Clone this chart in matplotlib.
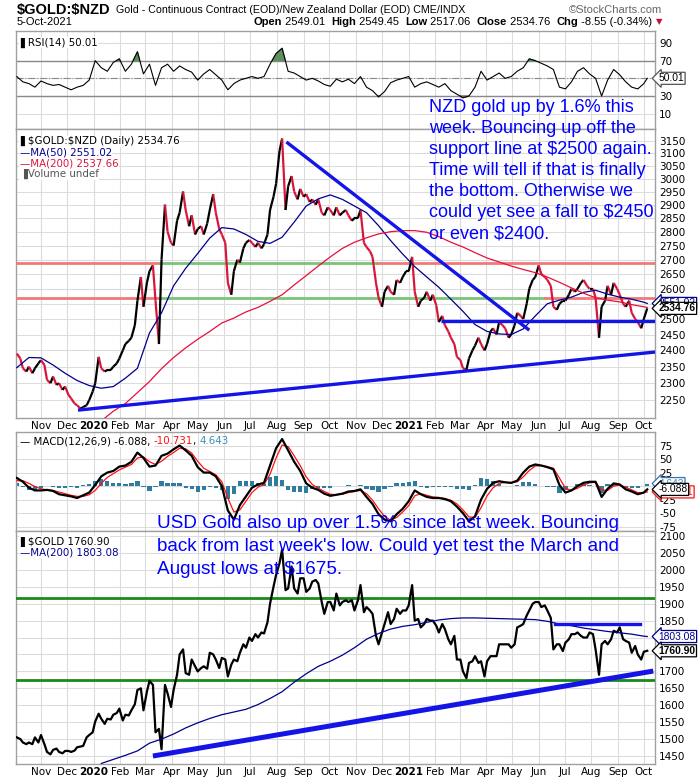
import matplotlib
matplotlib.use("Agg")
import matplotlib.pyplot as plt
import matplotlib.dates as mdates
import matplotlib.transforms as mtransforms
from matplotlib.collections import LineCollection
from matplotlib.text import Annotation
from matplotlib.ticker import NullLocator
import numpy as np
import pandas as pd

plt.rcParams['text.parse_math'] = False
plt.rcParams['font.family'] = ['DejaVu Sans']

nan = np.nan

# sample dates: prices twice a week, indicators weekly, moving averages fortnightly
tuesdays = pd.date_range('2019-10-08', '2021-10-05', freq='W-TUE')
fridays = pd.date_range('2019-10-04', '2021-10-01', freq='W-FRI')
price_dates = tuesdays.union(fridays)
week_dates = fridays.append(pd.DatetimeIndex(['2021-10-05']))
ma_dates = pd.date_range('2019-10-04', '2021-10-01', freq='2W-FRI').append(pd.DatetimeIndex(['2021-10-05']))

# $GOLD:$NZD close
nzd_close = [
    2390, 2375, 2345, 2335, 2350, 2330, 2345, 2360,                # Oct 19
    2370, 2355, 2310, 2300, 2320, 2295, 2300, 2280, 2290,          # Nov
    2265, 2255, 2240, 2235, 2225, 2230, 2235, 2250, 2275,          # Dec
    2300, 2380, 2345, 2335, 2340, 2340, 2350, 2360, 2375,          # Jan 20
    2400, 2420, 2430, 2440, 2480, 2560, 2640, 2540,                # Feb
    2620, 2660, 2680, 2560, 2420, 2700, 2900, 2800, 2760,          # Mar
    2750, 2840, 2870, 2950, 2880, 2820, 2860, 2790,                # Apr
    2810, 2820, 2790, 2830, 2880, 2940, 2870, 2810, 2790,          # May
    2760, 2620, 2580, 2660, 2700, 2690, 2740, 2760, 2770,          # Jun
    2760, 2745, 2760, 2740, 2755, 2790, 2880, 2930, 2980,          # Jul
    3110, 3160, 2880, 2970, 3010, 2950, 2920, 2960,                # Aug
    2930, 2940, 2910, 2920, 2900, 2920, 2870, 2860, 2890,          # Sep
    2880, 2860, 2890, 2860, 2870, 2880, 2860, 2840, 2850,          # Oct
    2850, 2880, 2760, 2745, 2730, 2710, 2620, 2570,                # Nov
    2540, 2590, 2610, 2590, 2580, 2630, 2620, 2640, 2660,          # Dec
    2660, 2710, 2590, 2540, 2560, 2570, 2590, 2560, 2580,          # Jan 21
    2545, 2490, 2510, 2480, 2460, 2440, 2420, 2380,                # Feb
    2370, 2345, 2340, 2375, 2400, 2415, 2440, 2420, 2400,          # Mar
    2420, 2460, 2470, 2450, 2490, 2480, 2470, 2440, 2450,          # Apr
    2480, 2520, 2510, 2500, 2550, 2600, 2630, 2640,                # May
    2680, 2650, 2640, 2630, 2610, 2540, 2530, 2550, 2560,          # Jun
    2560, 2580, 2600, 2590, 2600, 2620, 2630, 2610, 2600,          # Jul
    2600, 2570, 2440, 2540, 2560, 2610, 2580, 2620, 2600,          # Aug
    2580, 2550, 2540, 2560, 2520, 2500, 2490, 2470,                # Sep
    2500, 2534.76,                                                 # Oct
]

# $GOLD close (USD)
usd_close = [
    1505, 1500, 1490, 1485, 1490, 1485, 1505, 1490,
    1512, 1485, 1462, 1455, 1468, 1472, 1462, 1458, 1465,
    1465, 1462, 1466, 1476, 1478, 1480, 1505, 1512, 1520,
    1552, 1575, 1560, 1545, 1560, 1558, 1572, 1577, 1590,
    1555, 1572, 1570, 1585, 1603, 1645, 1650, 1585,
    1640, 1672, 1660, 1520, 1530, 1470, 1660, 1635, 1595,
    1645, 1690, 1750, 1765, 1695, 1690, 1735, 1715,
    1700, 1710, 1715, 1708, 1755, 1750, 1735, 1710, 1740,
    1735, 1685, 1720, 1735, 1730, 1755, 1780, 1770, 1800,
    1790, 1810, 1800, 1815, 1812, 1845, 1900, 1950, 1985,
    2020, 2060, 1940, 1945, 2010, 1945, 1930, 1975,
    1975, 1935, 1945, 1965, 1970, 1960, 1905, 1870, 1905,
    1905, 1880, 1930, 1895, 1905, 1910, 1905, 1910, 1880,
    1910, 1955, 1875, 1890, 1880, 1870, 1805, 1780,
    1815, 1840, 1875, 1840, 1855, 1885, 1870, 1880, 1880,
    1895, 1955, 1850, 1855, 1830, 1840, 1855, 1850, 1850,
    1835, 1815, 1840, 1825, 1795, 1780, 1805, 1735,
    1735, 1700, 1680, 1725, 1730, 1745, 1725, 1730, 1685,
    1730, 1745, 1745, 1745, 1780, 1780, 1780, 1780, 1770,
    1780, 1830, 1835, 1840, 1865, 1880, 1900, 1905,
    1905, 1890, 1895, 1880, 1858, 1765, 1780, 1780, 1760,
    1785, 1795, 1810, 1810, 1815, 1805, 1800, 1800, 1815,
    1810, 1765, 1690, 1780, 1790, 1780, 1795, 1820, 1815,
    1830, 1795, 1790, 1785, 1755, 1775, 1750, 1735,
    1758, 1760.90,
]

# moving averages (fortnightly readings)
nzd_ma50 = [
    2347, 2378, 2377, 2355, 2330, 2308, 2293,
    2285, 2290, 2315, 2345, 2455, 2520, 2610, 2670, 2722, 2777, 2815, 2810, 2790,
    2765, 2758, 2780, 2835, 2895, 2922, 2937, 2920, 2895, 2870, 2822, 2768, 2720,
    2676, 2640, 2605, 2565, 2525, 2482, 2460, 2452, 2450, 2468, 2510, 2550, 2562,
    2572, 2588, 2595, 2582, 2572, 2565, 2555, 2551.02,
]
nzd_ma200 = [
    nan, nan, nan, nan, nan, nan, nan,
    2190, 2218, 2240, 2272, 2305, 2344, 2378, 2408, 2435, 2460, 2487, 2503, 2523,
    2538, 2558, 2580, 2613, 2645, 2678, 2710, 2740, 2762, 2778, 2792, 2800, 2804,
    2804, 2798, 2782, 2762, 2745, 2725, 2706, 2692, 2678, 2666, 2655, 2640, 2622,
    2603, 2585, 2570, 2562, 2556, 2547, 2540, 2537.66,
]
usd_ma200 = [
    nan, nan, nan, nan, nan, nan, nan,
    1428, 1440, 1452, 1465, 1488, 1500, 1515, 1533, 1548, 1561, 1572, 1580, 1588,
    1602, 1620, 1640, 1668, 1693, 1715, 1730, 1748, 1770, 1795, 1812, 1825, 1833,
    1838, 1845, 1852, 1856, 1858, 1858, 1857, 1856, 1855, 1854, 1853, 1848, 1840,
    1835, 1828, 1823, 1818, 1814, 1810, 1804, 1803.08,
]

# RSI(14), weekly
rsi = [
    52, 46, 44, 40, 47, 44, 42, 43, 40, 37, 40, 42, 48,
    70, 62, 58, 68, 72, 58, 66, 80, 55, 66, 42, 62, 66, 58, 64, 60, 57, 48, 55, 60,
    54, 48, 37, 44, 48, 50, 52, 50, 52, 66, 78, 84, 58, 56, 52, 48, 50, 47, 43, 41,
    49, 46, 49, 44, 52, 40, 36, 29, 35, 45, 48, 50,
    52, 40, 44, 46, 43, 40, 44, 36, 32, 28, 30, 40, 58, 48, 52, 56, 50, 52, 58, 62,
    72, 70, 67, 64, 60, 40, 38, 46, 58, 62, 55, 50, 30, 48, 60, 54, 46, 40, 38, 44,
    50.01,
]

# MACD(12,26,9), weekly
macd_line = [
    15, 8, -3, -8, -8, -7, -9, -15, -17, -19, -22, -17, -12,
    2, 18, 25, 28, 36, 38, 45, 62, 52, 36, 38, 56, 60, 68, 75, 66, 56, 35, 25, 25,
    18, 0, -45, -62, -35, -19, -3, 3, 6, 38, 70, 87, 66, 45, 28, 5, -3, -7, -14, -18,
    -16, -14, -10, -9, -6, -20, -33, -52, -62, -65, -52, -42,
    -28, -8, -15, -20, -22, -22, -24, -28, -38, -50, -65, -56, -25, -5, 6, 9, 7, 6, 10, 25,
    36, 40, 38, 35, 31, 2, -12, -8, 0, 6, 8, 8, -20, -5, 5, 3, -6, -10, -15, -12,
    -6.088,
]
macd_signal = [
    10, 10, 5, -1, -5, -7, -8, -11, -14, -17, -19, -19, -16,
    -8, 5, 16, 23, 30, 35, 40, 52, 54, 45, 40, 46, 55, 62, 70, 69, 61, 46, 33, 27,
    21, 8, -22, -48, -44, -28, -12, -2, 3, 22, 52, 76, 73, 56, 38, 17, 3, -4, -10, -15,
    -16, -15, -12, -10, -8, -14, -26, -42, -56, -63, -58, -48,
    -36, -18, -14, -17, -20, -21, -23, -26, -33, -44, -57, -58, -40, -18, -3, 5, 7, 6, 8, 17,
    29, 37, 38, 36, 33, 15, -4, -8, -4, 2, 6, 7, -7, -8, 0, 2, -2, -7, -12, -12,
    -10.731,
]

# drawn trend lines and levels (date, price)
nzd_downtrend = (['2020-08-12', '2021-05-21'], [3146, 2464])
nzd_support = (['2019-12-14', '2021-10-14'], [2221, 2395])
nzd_floor = (['2021-02-07', '2021-10-14'], [2495, 2495])
nzd_levels = [2690, 2570]
nzd_level_green = [('2020-03-18', '2020-11-25'), ('2020-03-18', '2021-06-08')]
usd_support = (['2020-03-10', '2021-10-12'], [1450, 1701])
usd_cap = (['2021-06-20', '2021-09-27'], [1840, 1840])
usd_levels = [1917, 1675]

nzd_note = ["NZD gold up by 1.6% this", "week. Bouncing up off the",
            "support line at $2500 again.", "Time will tell if that is finally",
            "the bottom. Otherwise we", "could yet see a fall to $2450",
            "or even $2400."]
usd_note = ["USD Gold also up over 1.5% since last week. Bouncing",
            "back from last week's low. Could yet test the March and",
            "August lows at $1675."]

W, H = 700, 780
fig = plt.figure(figsize=(W / 100, H / 100), dpi=100)
fig.patch.set_facecolor('white')
ARIAL = ['Liberation Sans', 'DejaVu Sans']


def panel(top, bottom):
    return fig.add_axes([16 / W, 1 - bottom / H, 639 / W, (bottom - top) / H])


ax_rsi = panel(31, 129)
ax_nzd = panel(129, 418)
ax_macd = panel(432, 531)
ax_usd = panel(531, 764)

months = pd.date_range('2019-11-01', '2021-10-01', freq='MS')
month_labels = [str(d.year) if d.month == 1 else d.strftime('%b') for d in months]
x0, x1 = pd.Timestamp('2019-10-03'), pd.Timestamp('2021-10-14')
GRID = '#dcdcdc'


def style(ax, ticks, labels, show_x):
    ax.set_xlim(x0, x1)
    ax.set_xticks(months)
    ax.yaxis.tick_right()
    ax.set_yticks(ticks)
    ax.set_yticklabels(labels)
    ax.yaxis.set_minor_locator(NullLocator())
    ax.grid(True, color=GRID, lw=0.8, zorder=0)
    ax.set_axisbelow(True)
    ax.tick_params(length=0, labelsize=7.5, pad=3)
    ax.tick_params(axis='x', pad=2, labelbottom=show_x)
    if show_x:
        ax.set_xticklabels(month_labels)
        for lbl in ax.get_xticklabels():
            if lbl.get_text() in ('2020', '2021'):
                lbl.set_fontweight('bold')
    for s in ax.spines.values():
        s.set_color('#a0a0a0')
        s.set_linewidth(1)


def value_box(ax, y, text, edge, color='black', bold=False, z=6):
    trans = mtransforms.blended_transform_factory(ax.transAxes, ax.transData)
    ax.annotate(text, xy=(1, y), xycoords=trans, xytext=(2.5, 0), textcoords='offset points',
                ha='left', va='center', fontsize=7.4, color=color, family=ARIAL,
                fontweight='bold' if bold else 'normal', annotation_clip=False, zorder=z,
                bbox=dict(boxstyle='larrow,pad=0.1', fc='white', ec=edge, lw=0.9))


def legend_text(ax, y, text, color='black'):
    return ax.text(0.006, y, text, transform=ax.transAxes, fontsize=7.4, color=color, va='top',
                   bbox=dict(fc='white', ec='none', pad=0.3), zorder=8)


# ---- RSI ----
rsi_a = np.array(rsi)
ax_rsi.plot(week_dates, rsi_a, color='black', lw=0.8, zorder=3)
ax_rsi.fill_between(week_dates, rsi_a, 70, where=rsi_a > 70, interpolate=True, color='#5f8f5f', zorder=2)
ax_rsi.fill_between(week_dates, rsi_a, 30, where=rsi_a < 30, interpolate=True, color='#a05a5a', zorder=2)
for lvl in (30, 70):
    ax_rsi.axhline(lvl, color='#8a8a8a', lw=1, zorder=1)
ax_rsi.axhline(50, color='#8a8a8a', lw=0.8, ls='-.', zorder=1)
ax_rsi.set_ylim(-7.4, 103.6)
style(ax_rsi, [10, 30, 50, 70, 90], ['10', '30', '', '70', '90'], False)
legend_text(ax_rsi, 0.93, '\u258cRSI(14) 50.01')
value_box(ax_rsi, 50.01, '50.01', '#555555')

# ---- $GOLD:$NZD ----
ax_nzd.set_yscale('log')
xn = mdates.date2num(price_dates.to_pydatetime())
pts = np.column_stack([xn, nzd_close])
segs = np.stack([pts[:-1], pts[1:]], axis=1)
cols = ['black' if b >= a else '#d8163c' for a, b in zip(nzd_close[:-1], nzd_close[1:])]
ax_nzd.add_collection(LineCollection(segs, colors=cols, linewidths=1.6, zorder=4))
ax_nzd.plot(ma_dates, nzd_ma50, color='#00008b', lw=0.9, zorder=5)
ax_nzd.plot(ma_dates, nzd_ma200, color='#e8103a', lw=0.9, zorder=5)
for lvl, (g0, g1) in zip(nzd_levels, nzd_level_green):
    ax_nzd.plot([x0, pd.Timestamp(g0)], [lvl, lvl], color='#f07a7a', lw=2, zorder=3)
    ax_nzd.plot([pd.Timestamp(g0), pd.Timestamp(g1)], [lvl, lvl], color='#78c478', lw=2, zorder=3)
    ax_nzd.plot([pd.Timestamp(g1), x1], [lvl, lvl], color='#f07a7a', lw=2, zorder=3)
for dts, vals in (nzd_downtrend, nzd_support, nzd_floor):
    ax_nzd.plot(pd.to_datetime(dts), vals, color='#1414e6', lw=2.4, zorder=6, solid_capstyle='butt')
ax_nzd.set_ylim(2198.4, 3199.5)
nzd_ticks = list(range(2250, 3151, 50))
style(ax_nzd, nzd_ticks, ['' if t == 2550 else str(t) for t in nzd_ticks], True)
legend_text(ax_nzd, 0.975, '\u258c$GOLD:$NZD (Daily) 2534.76')
legend_text(ax_nzd, 0.937, '\u2014MA(50) 2551.02', '#00008b')
legend_text(ax_nzd, 0.899, '\u2014MA(200) 2537.66', '#dc143c')
legend_text(ax_nzd, 0.861, '\u2590Volume undef', '#555555')
value_box(ax_nzd, 2551.02, '2551.02', '#00008b', '#00008b', z=6)
value_box(ax_nzd, 2534.76, '2534.76', 'black', 'black', bold=True, z=7)

# ---- MACD ----
hist = np.array(macd_line) - np.array(macd_signal)
ax_macd.bar(week_dates, hist, width=5, color='#2e7d9e', zorder=2)
ax_macd.plot(week_dates, macd_signal, color='#ff1010', lw=0.9, zorder=3)
ax_macd.plot(week_dates, macd_line, color='black', lw=1.6, zorder=4)
ax_macd.set_ylim(-83, 100)
style(ax_macd, [-75, -50, -25, 0, 25, 50, 75], ['-75', '-50', '-25', '', '25', '50', '75'], False)
t = legend_text(ax_macd, 0.955, '\u2014 MACD(12,26,9) -6.088, ')
t = ax_macd.annotate('-10.731', xy=(1, 0), xycoords=t, va='bottom', fontsize=7.4, color='#ff1010')
t = ax_macd.annotate(', ', xy=(1, 0), xycoords=t, va='bottom', fontsize=7.4)
ax_macd.annotate('4.643', xy=(1, 0), xycoords=t, va='bottom', fontsize=7.4, color='#3a8fb7')
value_box(ax_macd, 4.643, '4.643', '#3a6fb7', '#3a8fb7', z=5)
value_box(ax_macd, -10.731, '-10.731', '#ff1010', '#ff1010', z=5)
value_box(ax_macd, -6.088, '-6.088', 'black', 'black', z=7)

# ---- $GOLD ----
ax_usd.plot(price_dates, usd_close, color='black', lw=1.6, zorder=4)
ax_usd.plot(ma_dates, usd_ma200, color='#00008b', lw=0.9, zorder=5)
for lvl in usd_levels:
    ax_usd.axhline(lvl, color='#1a8a1a', lw=2, zorder=3)
ax_usd.plot(pd.to_datetime(usd_cap[0]), usd_cap[1], color='#1414e6', lw=2.4, zorder=6)
ax_usd.plot(pd.to_datetime(usd_support[0]), usd_support[1], color='#1414e6', lw=3.6, zorder=6,
            solid_capstyle='butt')
ax_usd.set_ylim(1426.4, 2114.8)
usd_ticks = list(range(1450, 2101, 50))
style(ax_usd, usd_ticks, ['' if t in (1750, 1800) else str(t) for t in usd_ticks], True)
legend_text(ax_usd, 0.975, '\u258c$GOLD 1760.90')
legend_text(ax_usd, 0.928, '\u2014MA(200) 1803.08', '#00008b')
value_box(ax_usd, 1803.08, '1803.08', '#00008b', '#00008b', z=6)
value_box(ax_usd, 1760.90, '1760.90', 'black', 'black', bold=True, z=7)

# ---- header ----
h = fig.text(17 / W, 1 - 10 / H, '$GOLD:$NZD', family=ARIAL, fontsize=10.5, weight='bold', va='center')
fig.add_artist(Annotation('Gold - Continuous Contract (EOD)/New Zealand Dollar (EOD) CME/INDX',
                          xy=(1, 0.5), xycoords=h, xytext=(4, 0), textcoords='offset points',
                          va='center', family=ARIAL, fontsize=7.7))
fig.text(662 / W, 1 - 10 / H, '\u00a9StockCharts.com', family=ARIAL,
         fontsize=8, color='#666666', va='center', ha='right')
fig.text(17 / W, 1 - 22 / H, '5-Oct-2021', family=ARIAL, fontsize=8, va='center')

pieces = [('Open', True), (' 2549.01  ', False), ('High', True), (' 2549.45  ', False),
          ('Low', True), (' 2517.06  ', False), ('Close', True), (' 2534.76  ', False),
          ('Chg', True), (' -8.55 (-0.34%) ', False)]
anchor = fig.text(662 / W, 1 - 22 / H, '\u25bc', fontsize=6, color='#c0103a', va='center', ha='right')
for txt, bold in reversed(pieces):
    anchor = fig.add_artist(Annotation(
        txt, xy=(0, 0.5), xycoords=anchor, ha='right', va='center', fontsize=8,
        family=ARIAL, weight='bold' if bold else 'normal'))

# ---- blue notes ----
for i, line in enumerate(nzd_note):
    fig.text(429 / W, 1 - (107 + 21.1 * i) / H, line, family=ARIAL,
             fontsize=13, color='#0000ff', va='center')
for i, line in enumerate(usd_note):
    fig.text(157 / W, 1 - (524 + 22.5 * i) / H, line, family=ARIAL,
             fontsize=13.6, color='#0000ff', va='center')

fig.savefig('out.png', dpi=100, facecolor='white')
